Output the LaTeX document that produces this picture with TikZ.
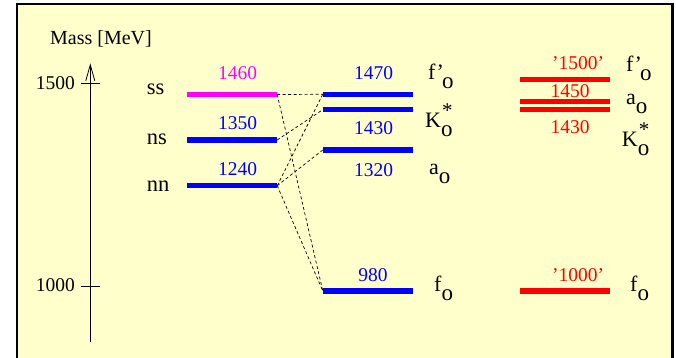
\documentclass[tikz,border=0pt]{standalone}
\usepackage{fontspec}
\setmainfont{Liberation Serif}
\usetikzlibrary{arrows.meta}
\definecolor{bgyellow}{RGB}{255,255,204}
\definecolor{pblue}{RGB}{0,0,255}
\definecolor{pmag}{RGB}{255,0,255}
\definecolor{pred}{RGB}{255,0,0}
\newcommand{\subo}{\raisebox{-8.5pt}{\fontsize{23}{23}\selectfont o}}
\newcommand{\supstar}{\rlap{\raisebox{10pt}{\hspace{1pt}\fontsize{21}{21}\selectfont *}}}
\begin{document}
\begin{tikzpicture}[x=1pt,y=-1pt,
  bar/.style={rectangle, inner sep=0pt, minimum width=90pt, minimum height=5.5pt},
  num/.style={anchor=base, inner sep=0pt, font=\fontsize{19.5}{22}\selectfont},
  lab/.style={anchor=base west, inner sep=0pt, font=\fontsize{22.5}{26}\selectfont},
  plab/.style={anchor=base west, inner sep=0pt, font=\fontsize{22}{26}\selectfont},
  conn/.style={line width=0.7pt, dash pattern=on 3pt off 2.5pt}]
\useasboundingbox (0,0) rectangle (676,358);
\fill[bgyellow] (17,4.3) rectangle (672.5,364);
\draw[line width=2.2pt] (17,364) -- (17,4.3) -- (672.5,4.3) -- (672.5,364);

% axis
\coordinate (axb) at (90.3,341.7);
\coordinate (axt) at (90.3,63.3);
\draw[line width=0.8pt, -{Straight Barb[length=16pt,width=9pt,line width=0.8pt]}] (axb) -- (axt);
\coordinate (t15a) at (81,83.3); \coordinate (t15b) at (100,83.3);
\coordinate (t10a) at (81,286.7); \coordinate (t10b) at (100,286.7);
\draw[line width=0.8pt] (t15a) -- (t15b);
\draw[line width=0.8pt] (t10a) -- (t10b);
\node[anchor=east, inner sep=0pt, font=\fontsize{19.5}{22}\selectfont] (l1500) at (75,83.5) {1500};
\node[anchor=east, inner sep=0pt, font=\fontsize{19.5}{22}\selectfont] (l1000) at (75,285.5) {1000};
\node[anchor=base west, inner sep=0pt, font=\fontsize{20}{24}\selectfont] (mass) at (50,44.3) {Mass [MeV]};

% left bars
\node[bar, fill=pmag] (ss) at (232,94.5) {};
\node[bar, fill=pblue] (ns) at (232,140) {};
\node[bar, fill=pblue] (nn) at (232,185.7) {};
\node[lab] (lss) at (146.7,95) {ss};
\node[lab] (lns) at (146.7,145) {ns};
\node[lab] (lnn) at (146.7,191) {nn};
\node[num, text=pmag] (n1460) at (237.5,80) {1460};
\node[num, text=pblue] (n1350) at (237.5,130) {1350};
\node[num, text=pblue] (n1240) at (237.5,175.7) {1240};

% middle bars
\node[bar, fill=pblue] (mf1) at (368,94.3) {};
\node[bar, fill=pblue] (mk) at (368,109.7) {};
\node[bar, fill=pblue] (ma) at (368,150) {};
\node[bar, fill=pblue] (mf0) at (368,291) {};
\node[num, text=pblue] (n1470) at (373.5,80) {1470};
\node[num, text=pblue] (n1430) at (373.5,135) {1430};
\node[num, text=pblue] (n1320) at (373.5,176.7) {1320};
\node[num, text=pblue] (n980) at (373,281.7) {980};
\node[plab] (pmf1) at (428,80) {f\textquoteright\kern-2pt\subo};
\node[plab] (pmk) at (425,127.7) {K\supstar\subo};
\node[plab] (pma) at (429,175) {a\subo};
\node[plab] (pmf0) at (434,291.7) {f\subo};

% right bars
\node[bar, fill=pred] (rf1) at (565,79.5) {};
\node[bar, fill=pred] (ra) at (565,101.3) {};
\node[bar, fill=pred] (rk) at (565,109.5) {};
\node[bar, fill=pred] (rf0) at (565,291) {};
\node[num, text=pred] (n1500) at (578,70) {\textquoteright 1500\textquoteright};
\node[num, text=pred] (n1450) at (570,97.3) {1450};
\node[num, text=pred] (n1430r) at (570,134) {1430};
\node[num, text=pred] (n1000) at (578,281.7) {\textquoteright 1000\textquoteright};
\node[plab] (prf1) at (626,71.7) {f\textquoteright\kern-2pt\subo};
\node[plab] (pra) at (626,105) {a\subo};
\node[plab] (prk) at (621.7,146.7) {K\supstar\subo};
\node[plab] (prf0) at (630,291.7) {f\subo};

% mixing connectors
\draw[conn] (ss.east) -- (mf1.west);
\draw[conn] (ss.east) -- (mf0.west);
\draw[conn] (ns.east) -- (mk.west);
\draw[conn] (nn.east) -- (mf1.west);
\draw[conn] (nn.east) -- (ma.west);
\draw[conn] (nn.east) -- (mf0.west);
\end{tikzpicture}
\end{document}
